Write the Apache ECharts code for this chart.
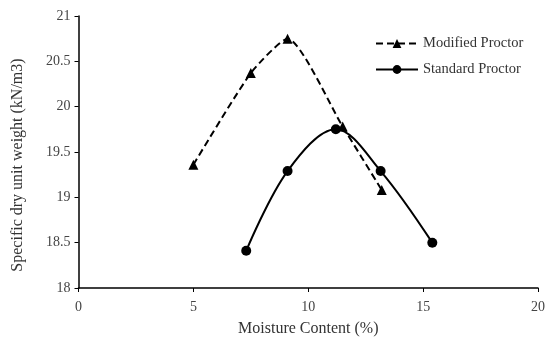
<!DOCTYPE html>
<html>
<head>
<meta charset="utf-8">
<script src="https://cdn.jsdelivr.net/npm/echarts@6/dist/echarts.min.js"></script>
<style>html,body{margin:0;padding:0;background:#fff;}#c{width:550px;height:338px;}</style>
</head>
<body>
<div id="c"></div>
<script>
var modifiedX = [5.0, 7.5, 9.1, 11.5, 13.2];
var modifiedY = [19.36, 20.37, 20.75, 19.78, 19.08];
var standardX = [7.3, 9.1, 11.2, 13.15, 15.4];
var standardY = [18.41, 19.29, 19.75, 19.29, 18.5];
var seriesNames = ['Modified Proctor', 'Standard Proctor'];
var xTitle = 'Moisture Content (%)';
var yTitle = 'Specific dry unit weight (kN/m3)';

function pairs(xs, ys) { return xs.map(function (x, i) { return [x, ys[i]]; }); }

var font = '"Liberation Serif", "Times New Roman", serif';
var chart = echarts.init(document.getElementById('c'));
chart.setOption({
  animation: false,
  textStyle: { fontFamily: font },
  grid: { left: 78.5, right: 12, top: 16, bottom: 50, containLabel: false, outerBoundsMode: 'none' },
  graphic: [{
    type: 'text',
    x: 18, y: 165,
    rotation: Math.PI / 2,
    style: {
      text: yTitle, fontFamily: font, fontSize: 16, fill: '#333',
      align: 'center', verticalAlign: 'middle'
    }
  }],
  legend: {
    data: seriesNames,
    orient: 'vertical',
    left: 370,
    top: 31,
    itemWidth: 42,
    itemHeight: 11,
    itemGap: 11,
    textStyle: { fontFamily: font, fontSize: 14.5, color: '#333' }
  },
  xAxis: {
    type: 'value', min: 0, max: 20, interval: 5,
    name: xTitle, nameLocation: 'middle', nameGap: 33,
    nameTextStyle: { fontFamily: font, fontSize: 16, color: '#333' },
    axisLine: { lineStyle: { color: '#000', width: 1.5 } },
    axisTick: { show: true, length: 4, lineStyle: { color: '#000' } },
    axisLabel: { fontFamily: font, fontSize: 14, color: '#444', margin: 12 },
    splitLine: { show: false }
  },
  yAxis: {
    type: 'value', min: 18, max: 21, interval: 0.5,
    axisLine: { show: true, lineStyle: { color: '#000', width: 1.5 } },
    axisTick: { show: true, length: 4, lineStyle: { color: '#000' } },
    axisLabel: { fontFamily: font, fontSize: 14, color: '#444', margin: 8 },
    splitLine: { show: false }
  },
  series: [
    {
      name: seriesNames[0], type: 'line', smooth: 0.2,
      data: pairs(modifiedX, modifiedY),
      symbol: 'triangle', symbolSize: 10,
      itemStyle: { color: '#000' },
      lineStyle: { color: '#000', width: 2, type: [7, 4] }
    },
    {
      name: seriesNames[1], type: 'line', smooth: 0.35,
      data: pairs(standardX, standardY),
      symbol: 'circle', symbolSize: 10,
      itemStyle: { color: '#000' },
      lineStyle: { color: '#000', width: 2 }
    }
  ]
});
</script>
</body>
</html>
